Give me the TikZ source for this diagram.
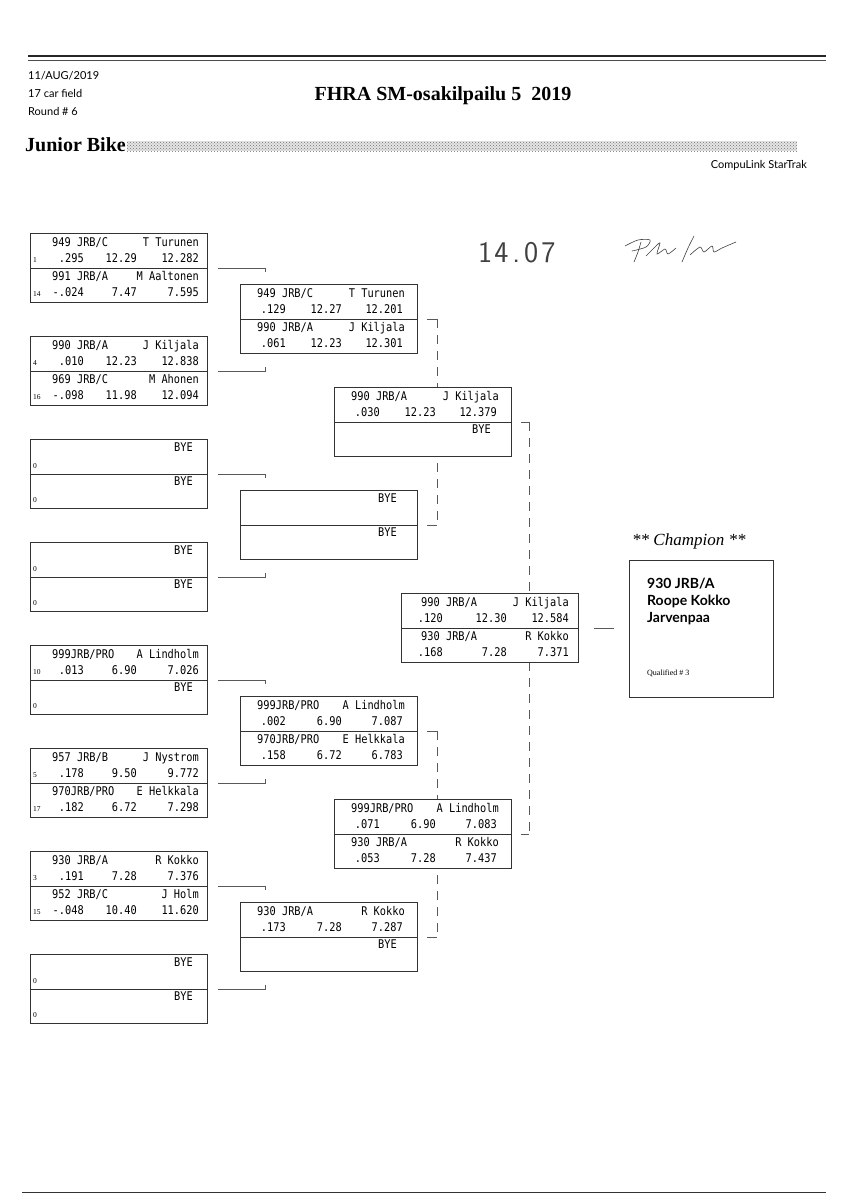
\documentclass[tikz,border=0pt]{standalone}
\usepackage{fontspec}
\setmainfont{Liberation Serif}
\newfontfamily\monof[FakeStretch=0.86]{DejaVu Sans Mono}
\newfontfamily\hsans{Lato}
\usetikzlibrary{calc,patterns}

\tikzset{
  hbox/.style={draw=black!80, line width=0.8pt, fill=white, minimum width=177pt, minimum height=69pt, inner sep=0pt, outer sep=0pt},
  hline/.style={draw=black!80, line width=0.8pt},
  mono/.style={font=\monof\fontsize{12}{13}\selectfont, inner sep=0pt},
  seedf/.style={font=\fontsize{7.5}{8}\selectfont, inner sep=0pt},
  hdr/.style={font=\hsans\fontsize{11}{12}\selectfont, inner sep=0pt},
  bracket/.style={draw=black!65, line width=0.6pt},
  dbracket/.style={bracket, dash pattern=on 9pt off 7pt},
}

\def\cCar{22}\def\cRT{54}\def\cET{107}\def\cSp{169}\def\cNm{169}\def\cBye{163}

\newcommand\hbx[3]{%
  \node[hbox, anchor=north west] (#1) at (#2,#3) {};
  \coordinate (#1-dw) at ($(#1.north west)+(0,35)$);
  \coordinate (#1-de) at ($(#1.north east)+(0,35)$);
  \draw[hline] (#1-dw) -- (#1-de);
}
% box, half offset, seed, car, name, rt, et, speed
\newcommand\racer[8]{%
  \node[mono, anchor=base west] (#1-car#2) at ($(#1.north west)+(\cCar,#2+13)$) {#4};
  \node[mono, anchor=base east] (#1-nm#2) at ($(#1.north west)+(\cNm,#2+13)$) {#5};
  \if\relax\detokenize{#3}\relax\else
  \node[seedf, anchor=base west] (#1-sd#2) at ($(#1.north west)+(3,#2+29)$) {#3};
  \fi
  \node[mono, anchor=base east] (#1-rt#2) at ($(#1.north west)+(\cRT,#2+29)$) {#6};
  \node[mono, anchor=base east] (#1-et#2) at ($(#1.north west)+(\cET,#2+29)$) {#7};
  \node[mono, anchor=base east] (#1-sp#2) at ($(#1.north west)+(\cSp,#2+29)$) {#8};
}
% box, half offset, seed
\newcommand\byeentry[3]{%
  \node[mono, anchor=base east] (#1-bye#2) at ($(#1.north west)+(\cBye,#2+12)$) {BYE};
  \if\relax\detokenize{#3}\relax\else
  \node[seedf, anchor=base west] (#1-sd#2) at ($(#1.north west)+(3,#2+29)$) {#3};
  \fi
}
% dashed bracket between two coordinates: upper, lower, tick start offset, vertical offset
\newcommand\dbr[4]{%
  \draw[bracket] ($(#1)+(#3,0)$) -- ($(#1)+(#4,0)$);
  \draw[bracket] ($(#2)+(#3,0)$) -- ($(#2)+(#4,0)$);
  \draw[dbracket] ($(#1)+(#4,0)$) -- ($(#2)+(#4,0)$);
}

\begin{document}
\begin{tikzpicture}[x=1pt,y=-1pt]
\useasboundingbox (0,0) rectangle (848,1200);

% ---------- header ----------
\coordinate (h1a) at (28,56); \coordinate (h1b) at (826,56);
\coordinate (h2a) at (28,60); \coordinate (h2b) at (826,60);
\draw[line width=1.4pt, black!85] (h1a) -- (h1b);
\draw[line width=0.6pt, black!70] (h2a) -- (h2b);
\node[hdr, anchor=base west] (date) at (28,79) {11/AUG/2019};
\node[hdr, anchor=base west] (field) at (28,97) {17 car field};
\node[hdr, anchor=base west] (round) at (28,115) {Round \# 6};
\node[anchor=base, inner sep=0pt, font=\bfseries\fontsize{20}{22}\selectfont] (title) at (443,100) {FHRA SM-osakilpailu 5\ \ 2019};
\node[anchor=base west, inner sep=0pt, font=\bfseries\fontsize{20}{22}\selectfont] (cls) at (25,151) {Junior Bike};
\fill[black!10] (127,141) rectangle (797,151);
\fill[pattern=crosshatch dots, pattern color=black!55] (127,141) rectangle (797,151);
\node[hdr, anchor=base east] (soft) at (807,168) {CompuLink StarTrak};

% handwritten note
\node[anchor=base west, inner sep=0pt, text=black!75, font=\sffamily\fontsize{30}{32}\selectfont] (hand) at (478,262) {1\kern2pt4\kern4pt.\kern4pt0\kern3pt7};
\draw[black!75, line width=0.6pt, line cap=round] plot[smooth] coordinates {(625,246) (638,240) (650,240) (646,247) (632,251)};
\draw[black!75, line width=0.6pt, line cap=round] plot[smooth] coordinates {(641,242) (638,252) (634,262)};
\draw[black!75, line width=0.6pt, line cap=round] plot[smooth] coordinates {(646,256) (655,247) (660,243) (657,254) (665,249) (668,254) (676,248)};
\draw[black!75, line width=0.6pt, line cap=round] plot[smooth] coordinates {(694,236) (688,248) (682,262)};
\draw[black!75, line width=0.6pt, line cap=round] plot[smooth] coordinates {(690,255) (700,247) (704,252) (712,246) (714,252) (722,248) (736,242)};

% ---------- round 1 boxes ----------
\hbx{r1a}{30}{233}
\hbx{r1b}{30}{336}
\hbx{r1c}{30}{439}
\hbx{r1d}{30}{542}
\hbx{r1e}{30}{645}
\hbx{r1f}{30}{748}
\hbx{r1g}{30}{851}
\hbx{r1h}{30}{954}

\racer{r1a}{0}{1}{949 JRB/C}{T Turunen}{.295}{12.29}{12.282}
\racer{r1a}{34}{14}{991 JRB/A}{M Aaltonen}{-.024}{7.47}{7.595}
\racer{r1b}{0}{4}{990 JRB/A}{J Kiljala}{.010}{12.23}{12.838}
\racer{r1b}{34}{16}{969 JRB/C}{M Ahonen}{-.098}{11.98}{12.094}
\byeentry{r1c}{0}{0}
\byeentry{r1c}{34}{0}
\byeentry{r1d}{0}{0}
\byeentry{r1d}{34}{0}
\racer{r1e}{0}{10}{999JRB/PRO}{A Lindholm}{.013}{6.90}{7.026}
\byeentry{r1e}{34}{0}
\racer{r1f}{0}{5}{957 JRB/B}{J Nystrom}{.178}{9.50}{9.772}
\racer{r1f}{34}{17}{970JRB/PRO}{E Helkkala}{.182}{6.72}{7.298}
\racer{r1g}{0}{3}{930 JRB/A}{R Kokko}{.191}{7.28}{7.376}
\racer{r1g}{34}{15}{952 JRB/C}{J Holm}{-.048}{10.40}{11.620}
\byeentry{r1h}{0}{0}
\byeentry{r1h}{34}{0}

% round 1 brackets
\foreach \u/\l in {r1a/r1b, r1c/r1d, r1e/r1f, r1g/r1h}{
  \draw[bracket] ($(\u-de)+(11,0)$) -- ($(\u-de)+(58,0)$) -- ++(0,4);
  \draw[bracket] ($(\l-de)+(11,0)$) -- ($(\l-de)+(58,0)$) -- ++(0,-4);
}

% ---------- later rounds ----------
\def\cCar{17}\def\cRT{46}\def\cET{102}\def\cSp{163}\def\cNm{165}\def\cBye{157}

% divider points of round 2 and 3 boxes (boxes drawn afterwards cover the dashed lines)
\coordinate (q2a) at (417,319);
\coordinate (q2b) at (417,525);
\coordinate (q2c) at (417,731);
\coordinate (q2d) at (417,937);
\coordinate (q3a) at (511,422);
\coordinate (q3b) at (511,834);
\dbr{q2a}{q2b}{10}{20}
\dbr{q2c}{q2d}{10}{20}
\dbr{q3a}{q3b}{10}{18}

% ---------- round 2 boxes ----------
\hbx{r2a}{240}{284}
\hbx{r2b}{240}{490}
\hbx{r2c}{240}{696}
\hbx{r2d}{240}{902}
\racer{r2a}{0}{}{949 JRB/C}{T Turunen}{.129}{12.27}{12.201}
\racer{r2a}{34}{}{990 JRB/A}{J Kiljala}{.061}{12.23}{12.301}
\byeentry{r2b}{0}{}
\byeentry{r2b}{34}{}
\racer{r2c}{0}{}{999JRB/PRO}{A Lindholm}{.002}{6.90}{7.087}
\racer{r2c}{34}{}{970JRB/PRO}{E Helkkala}{.158}{6.72}{6.783}
\racer{r2d}{0}{}{930 JRB/A}{R Kokko}{.173}{7.28}{7.287}
\byeentry{r2d}{34}{}

% ---------- round 3 boxes ----------
\hbx{r3a}{334}{387}
\hbx{r3b}{334}{799}
\racer{r3a}{0}{}{990 JRB/A}{J Kiljala}{.030}{12.23}{12.379}
\byeentry{r3a}{34}{}
\racer{r3b}{0}{}{999JRB/PRO}{A Lindholm}{.071}{6.90}{7.083}
\racer{r3b}{34}{}{930 JRB/A}{R Kokko}{.053}{7.28}{7.437}

% ---------- final ----------
\def\cCar{20}\def\cRT{42}\def\cET{106}\def\cSp{168}\def\cNm{168}
\hbx{r4}{401}{593}
\racer{r4}{0}{}{990 JRB/A}{J Kiljala}{.120}{12.30}{12.584}
\racer{r4}{34}{}{930 JRB/A}{R Kokko}{.168}{7.28}{7.371}

% ---------- champion ----------
\node[draw=black!80, line width=0.8pt, minimum width=144pt, minimum height=137pt, inner sep=0pt, anchor=north west] (champ) at (629,560) {};
\draw[bracket] ($(r4-de)+(16,0)$) -- ($(champ.west |- r4-de)+(-15,0)$);
\node[anchor=base west, inner sep=0pt, font=\itshape\fontsize{17}{20}\selectfont] (champt) at (632,545) {** Champion **};
\node[anchor=base west, inner sep=0pt, font=\hsans\bfseries\fontsize{14}{16}\selectfont] (ch1) at (647,588) {930 JRB/A};
\node[anchor=base west, inner sep=0pt, font=\hsans\bfseries\fontsize{14}{16}\selectfont] (ch2) at (647,605) {Roope Kokko};
\node[anchor=base west, inner sep=0pt, font=\hsans\bfseries\fontsize{14}{16}\selectfont] (ch3) at (647,622) {Jarvenpaa};
\node[anchor=base west, inner sep=0pt, font=\fontsize{8}{9}\selectfont] (qual) at (647,675) {Qualified \# 3};

% ---------- footer line ----------
\coordinate (f1) at (22,1192); \coordinate (f2) at (826,1192);
\draw[line width=0.9pt, black!80] (f1) -- (f2);
\end{tikzpicture}
\end{document}
